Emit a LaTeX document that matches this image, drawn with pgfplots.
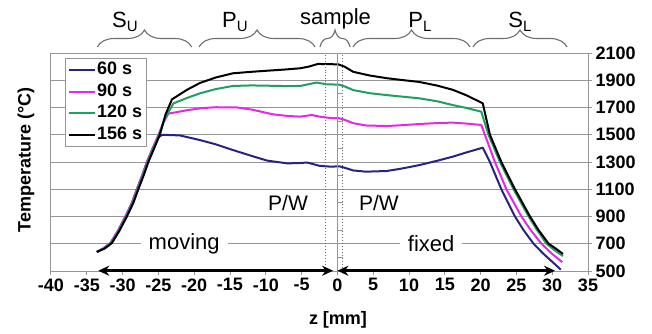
\documentclass[border=0pt]{standalone}
\usepackage{fontspec}
\setmainfont{Liberation Sans}
\usepackage{pgfplots}
\pgfplotsset{compat=1.18}
\usetikzlibrary{decorations.pathreplacing,arrows.meta}
\definecolor{c60}{RGB}{40,35,130}
\definecolor{c90}{RGB}{228,40,228}
\definecolor{c120}{RGB}{30,160,95}
\definecolor{gridgray}{RGB}{150,150,150}
\definecolor{bracegray}{RGB}{110,110,110}
\newcommand{\lbl}{\fontsize{18bp}{21.7bp}\selectfont\bfseries}
\newcommand{\bigtxt}{\fontsize{22bp}{24bp}\selectfont}
\newcommand{\sub}[1]{\raisebox{-0.35ex}{\fontsize{15bp}{15bp}\selectfont #1}}
\begin{document}
\begin{tikzpicture}[x=1bp,y=1bp]
\path[use as bounding box] (-51,-62) rectangle (601,271);
\begin{axis}[at={(0,0)}, anchor=south west, scale only axis,
  width=537bp, height=218bp,
  xmin=-40, xmax=35, ymin=500, ymax=2100,
  xtick={-40,-35,...,35}, ytick={500,700,...,2100},
  xtick pos=bottom, ytick pos=right, yticklabel pos=right,
  ymajorgrids, grid style={gridgray, line width=1bp},
  axis line style={gridgray, line width=1bp},
  tick style={gridgray, line width=1bp}, tick align=outside, major tick length=4bp,
  /pgf/number format/assume math mode=true,
  /pgf/number format/1000 sep={},
  tick label style={font=\lbl},
  clip=false,
  legend cell align=left,
  legend style={at={(rel axis cs:0.026,0.976)}, anchor=north west,
    draw=gridgray, fill=white, font=\lbl, inner xsep=3bp, inner ysep=2bp,
    nodes={inner sep=1bp, text height=13bp, text depth=4bp}, row sep=2.7bp},
  legend image code/.code={\draw[#1] (0bp,0bp) -- (26bp,0bp);},
  every axis plot/.append style={line width=2bp, line join=round},
]
\addplot[c60] coordinates {
(-33.6,640) (-32.7,665) (-31.7,705) (-30.7,790) (-29.6,900) (-28.7,1000) (-28.0,1100)
(-27.2,1210) (-26.6,1300) (-25.8,1400) (-25.0,1480) (-24.5,1500)
(-22,1495) (-19.2,1461) (-17,1430) (-14.6,1388) (-12,1345) (-9.8,1310) (-7,1290)
(-5.5,1292) (-4.2,1296) (-2.5,1272) (-1,1266) (0.3,1268) (1,1258) (2.2,1238)
(4,1229) (6.9,1234) (9,1252) (11.5,1278) (14,1310) (16.1,1339) (18,1370) (20.3,1405)
(21.3,1300) (22.9,1100) (24.8,900) (26,800) (27.4,700) (28.7,630) (30,568) (31.2,510)
};
\addlegendentry{60 s}
\addplot[c90] coordinates {
(-33.6,640) (-32.7,665) (-31.7,705) (-30.7,790) (-29.6,900) (-28.7,1000) (-28.0,1100)
(-27.2,1210) (-26.6,1300) (-25.8,1400) (-25.0,1500) (-24.3,1590) (-23.6,1655)
(-21,1680) (-19,1695) (-17,1702) (-14,1700) (-12,1685) (-9,1650) (-7,1638)
(-5.2,1633) (-3.6,1645) (-2.5,1633) (-1,1623) (0.2,1622) (1,1610) (2.2,1585)
(4,1568) (6.9,1564) (9,1570) (11.5,1579) (14,1586) (16.1,1589) (18,1582) (20.1,1572)
(20.6,1500) (22.0,1300) (23.6,1100) (25.7,900) (27,800) (28.5,700) (30,625) (31.4,565)
};
\addlegendentry{90 s}
\addplot[c120] coordinates {
(-33.6,640) (-32.6,665) (-31.6,705) (-30.6,790) (-29.5,900) (-28.6,1000) (-27.9,1100)
(-27.1,1210) (-26.5,1300) (-25.7,1400) (-24.9,1500) (-24.1,1620) (-22.9,1730)
(-21,1770) (-19.2,1804) (-17,1835) (-14.6,1858) (-12,1862) (-9.8,1860) (-7,1857)
(-5.2,1858) (-2.9,1883) (-1.5,1870) (0.2,1868) (1,1855) (2.2,1828) (4.5,1805)
(6.9,1791) (9,1780) (11.5,1767) (14,1745) (16.1,1718) (18,1697) (20.1,1669)
(21.1,1500) (22.7,1300) (24.6,1100) (26.7,900) (27.9,800) (29.2,700) (30.4,650) (31.5,610)
};
\addlegendentry{120 s}
\addplot[black] coordinates {
(-33.6,640) (-32.5,665) (-31.5,705) (-30.5,790) (-29.4,900) (-28.5,1000) (-27.8,1100)
(-27.0,1210) (-26.4,1300) (-25.6,1400) (-24.8,1500) (-24,1650) (-23.1,1760)
(-21,1830) (-19.2,1880) (-17,1920) (-14.6,1951) (-12,1962) (-9.8,1970) (-7,1980)
(-5.2,1988) (-4,2000) (-2.7,2020) (-1.5,2018) (0.1,2017) (1,2000) (2.2,1962)
(4.5,1935) (6.9,1915) (9,1902) (11.5,1887) (14,1860) (16.1,1830) (18,1790) (20.3,1731)
(21.3,1500) (22.9,1300) (24.8,1100) (26.9,900) (28.1,800) (29.5,700) (30.5,665) (31.5,625)
};
\addlegendentry{156 s}
% sample boundaries
\draw[bracegray, dotted, line width=1bp] (axis cs:-1.6,500) -- (axis cs:-1.6,2100);
\draw[bracegray, dotted, line width=1bp] (axis cs:0.75,500) -- (axis cs:0.75,2100);
\draw[gridgray, line width=0.8bp] (axis cs:0.05,500) -- (axis cs:0.05,2100);
\draw[gridgray, line width=0.8bp] (axis cs:0.05,600) -- (axis cs:0.75,600);
\draw[gridgray, line width=0.8bp] (axis cs:0.05,800) -- (axis cs:0.75,800);
\draw[gridgray, line width=0.8bp] (axis cs:0.05,1000) -- (axis cs:0.75,1000);
\draw[gridgray, line width=0.8bp] (axis cs:0.05,1200) -- (axis cs:0.75,1200);
\draw[gridgray, line width=0.8bp] (axis cs:0.05,1400) -- (axis cs:0.75,1400);
\draw[gridgray, line width=0.8bp] (axis cs:0.05,1600) -- (axis cs:0.75,1600);
\draw[gridgray, line width=0.8bp] (axis cs:0.05,1800) -- (axis cs:0.75,1800);
% text
\node[font=\bigtxt, fill=white, inner xsep=8bp, inner ysep=1bp] at (axis cs:-21.4,700) {moving};
\node[font=\bigtxt, fill=white, inner xsep=8bp, inner ysep=1bp] at (axis cs:13.1,700) {fixed};
\node[font=\fontsize{21bp}{23bp}\selectfont] at (axis cs:-6.9,1000) {P/W};
\node[font=\fontsize{21bp}{23bp}\selectfont] at (axis cs:5.8,1000) {P/W};
% arrows
\draw[line width=3bp, {Stealth[length=11bp,width=10bp]}-{Stealth[length=11bp,width=10bp]}] (axis cs:-33.4,502) -- (axis cs:-0.6,502);
\draw[line width=3bp, {Stealth[length=11bp,width=10bp]}-{Stealth[length=11bp,width=10bp]}] (axis cs:0.0,502) -- (axis cs:30.4,502);
\end{axis}
% braces
\begin{scope}[bracegray, line width=1.1bp, decoration={brace, amplitude=17bp}]
\draw[decorate] (46.3,224) -- (140.7,224);
\draw[decorate] (148,224) -- (264,224);
\draw[decorate] (269,224) -- (299,224);
\draw[decorate] (302,224) -- (419,224);
\draw[decorate] (422,224) -- (516,224);
\end{scope}
\node[font=\bigtxt] at (74,249) {S\sub{U}};
\node[font=\bigtxt] at (184,249) {P\sub{U}};
\node[font=\bigtxt] at (284.5,252) {sample};
\node[font=\bigtxt] at (369,249) {P\sub{L}};
\node[font=\bigtxt] at (469,249) {S\sub{L}};
% axis labels
\node[font=\lbl, rotate=90] at (-25,111) {Temperature (°C)};
\node[font=\lbl] at (287,-49) {z [mm]};
\end{tikzpicture}
\end{document}
